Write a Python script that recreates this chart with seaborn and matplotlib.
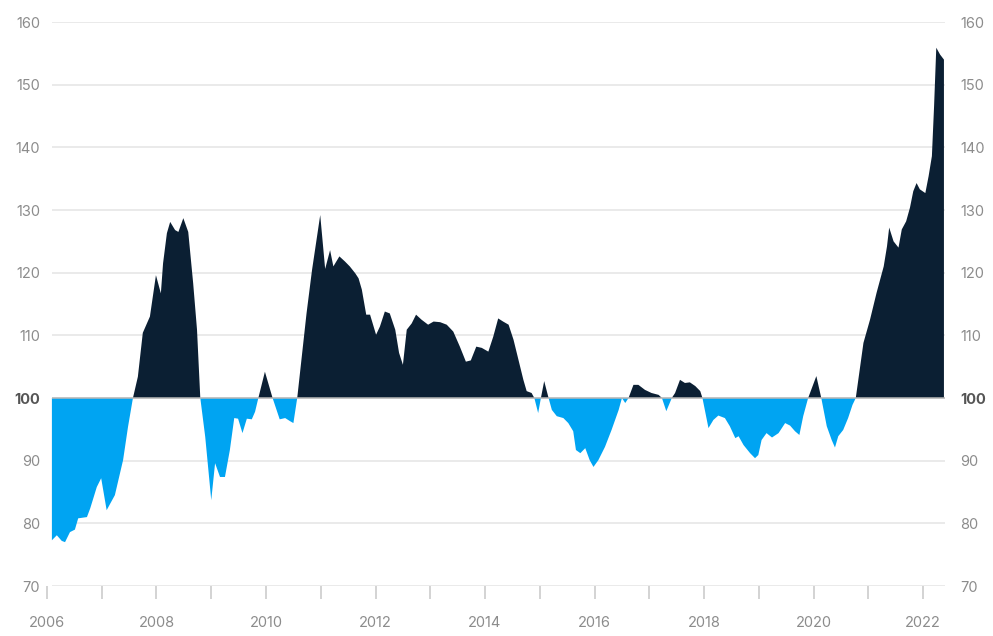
import numpy as np
import matplotlib
matplotlib.use("Agg")
import matplotlib.pyplot as plt
import seaborn as sns

# index values (100 = long-run average)
years = [2006.09, 2006.18, 2006.27, 2006.33, 2006.42, 2006.51, 2006.57, 2006.73, 2006.79, 2006.91,
         2006.99, 2007.09, 2007.24, 2007.39, 2007.48, 2007.57, 2007.66, 2007.75, 2007.88, 2007.99,
         2008.08, 2008.12, 2008.19, 2008.25, 2008.34, 2008.40, 2008.49, 2008.58, 2008.67, 2008.74,
         2008.80, 2008.89, 2009.00, 2009.07, 2009.16, 2009.25, 2009.34, 2009.42, 2009.49, 2009.57,
         2009.65, 2009.74, 2009.80, 2009.86, 2009.98, 2010.12, 2010.25, 2010.35, 2010.44, 2010.50,
         2010.57, 2010.74, 2010.84, 2010.99, 2011.08, 2011.17, 2011.23, 2011.34, 2011.44, 2011.53,
         2011.63, 2011.69, 2011.75, 2011.83, 2011.90, 2012.01, 2012.08, 2012.17, 2012.26, 2012.36,
         2012.43, 2012.50, 2012.57, 2012.66, 2012.74, 2012.84, 2012.96, 2013.06, 2013.18, 2013.30,
         2013.42, 2013.54, 2013.65, 2013.74, 2013.84, 2013.94, 2014.06, 2014.15, 2014.24, 2014.33,
         2014.43, 2014.52, 2014.61, 2014.70, 2014.76, 2014.85, 2014.90, 2014.97, 2015.02, 2015.08,
         2015.16, 2015.22, 2015.31, 2015.43, 2015.52, 2015.61, 2015.66, 2015.74, 2015.83, 2015.91,
         2015.98, 2016.07, 2016.19, 2016.31, 2016.44, 2016.50, 2016.56, 2016.62, 2016.71, 2016.80,
         2016.92, 2017.04, 2017.17, 2017.23, 2017.31, 2017.41, 2017.47, 2017.56, 2017.65, 2017.74,
         2017.84, 2017.93, 2017.97, 2018.08, 2018.17, 2018.26, 2018.38, 2018.47, 2018.57, 2018.63,
         2018.72, 2018.84, 2018.93, 2018.99, 2019.05, 2019.14, 2019.24, 2019.36, 2019.48, 2019.57,
         2019.66, 2019.74, 2019.81, 2019.90, 2020.05, 2020.14, 2020.24, 2020.33, 2020.39, 2020.45,
         2020.54, 2020.63, 2020.71, 2020.77, 2020.91, 2021.03, 2021.15, 2021.28, 2021.34, 2021.38,
         2021.46, 2021.55, 2021.61, 2021.69, 2021.76, 2021.82, 2021.88, 2021.94, 2022.04, 2022.10,
         2022.16, 2022.20, 2022.24, 2022.31, 2022.38]
index_vals = [77.3, 78.1, 77.2, 77.0, 78.6, 79.0, 80.8, 81.0, 82.4, 85.8,
              87.2, 82.1, 84.5, 90.1, 95.4, 100.0, 103.4, 110.4, 113.0, 119.6,
              116.7, 121.5, 126.3, 128.1, 126.8, 126.5, 128.7, 126.5, 118.3, 110.9,
              100.0, 93.8, 83.7, 89.6, 87.4, 87.4, 91.7, 96.8, 96.7, 94.4,
              96.7, 96.6, 97.8, 100.0, 104.2, 100.0, 96.6, 96.8, 96.3, 96.0,
              100.0, 113.5, 120.4, 129.2, 120.6, 123.6, 121.0, 122.6, 121.8, 121.0,
              119.9, 119.1, 117.3, 113.3, 113.3, 110.1, 111.4, 113.8, 113.5, 110.9,
              107.2, 105.3, 110.9, 111.9, 113.3, 112.5, 111.7, 112.2, 112.1, 111.7,
              110.6, 108.2, 105.8, 106.0, 108.2, 108.0, 107.4, 109.8, 112.7, 112.2,
              111.7, 109.3, 106.1, 102.9, 101.1, 100.8, 100.0, 97.6, 100.0, 102.7,
              100.0, 98.1, 97.1, 96.8, 96.0, 94.7, 91.7, 91.2, 92.0, 90.1,
              89.0, 90.1, 92.2, 94.9, 98.1, 100.0, 99.2, 100.0, 102.1, 102.1,
              101.3, 100.8, 100.5, 100.0, 97.9, 100.0, 100.8, 102.9, 102.4, 102.5,
              101.9, 101.1, 100.0, 95.2, 96.5, 97.2, 96.8, 95.5, 93.6, 93.9,
              92.5, 91.2, 90.4, 90.9, 93.3, 94.4, 93.7, 94.4, 96.0, 95.6,
              94.7, 94.1, 97.1, 100.0, 103.5, 100.0, 95.5, 93.3, 92.1, 93.9,
              94.9, 96.8, 98.9, 100.0, 108.8, 112.5, 116.8, 121.0, 124.2, 127.2,
              125.0, 124.0, 126.9, 128.2, 130.4, 133.0, 134.3, 133.3, 132.7, 135.4,
              138.6, 146.6, 155.9, 154.8, 154.0]

y_ticks = [70, 80, 90, 100, 110, 120, 130, 140, 150, 160]
x_ticks = list(range(2006, 2023))
x_labels = [str(y) if y % 2 == 0 else "" for y in x_ticks]

baseline = 100
navy = "#0b1f33"
sky = "#00a4f2"
grid_col = "#e8e8e8"
text_col = "#8c8c8c"

sns.set_theme(style="white")
plt.rcParams["font.family"] = ["Inter", "DejaVu Sans"]

fig = plt.figure(figsize=(9.93, 6.36), dpi=100)
ax = fig.add_axes([0.0473, 0.0786, 0.9044, 0.8868])

x = np.array(years)
v = np.array(index_vals)

# grid lines only over the data span
for yt in y_ticks:
    ax.hlines(yt, years[0], 2022.4, color=grid_col, lw=1.3, zorder=1)

ax.fill_between(x, baseline, v, where=v >= baseline, interpolate=True,
                color=navy, lw=0, zorder=2)
ax.fill_between(x, baseline, v, where=v <= baseline, interpolate=True,
                color=sky, lw=0, zorder=2)
ax.hlines(baseline, years[0], 2022.4, color="#b8b8b8", lw=1.1, zorder=3)

ax.set_xlim(2006, 2022.4)
ax.set_ylim(70, 160)
for s in ax.spines.values():
    s.set_visible(False)

ax.set_xticks(x_ticks)
ax.set_xticklabels(x_labels)
ax.tick_params(axis="x", bottom=True, top=False, length=9.5, width=1.1, color="#c8c8c8",
               pad=12, labelsize=10.5, labelcolor=text_col, direction="out")

ax.set_yticks(y_ticks)
ax.set_yticklabels([str(t) for t in y_ticks])
ax.tick_params(axis="y", left=False, right=False, length=0, pad=5,
               labelsize=10.5, labelcolor=text_col)

ax2 = ax.twinx()
ax2.set_ylim(70, 160)
ax2.set_yticks(y_ticks)
ax2.set_yticklabels([str(t) for t in y_ticks])
ax2.tick_params(axis="y", left=False, right=False, length=0, pad=11,
                labelsize=10.5, labelcolor=text_col)
for s in ax2.spines.values():
    s.set_visible(False)

for a in (ax, ax2):
    for lab in a.get_yticklabels():
        if lab.get_text() == "100":
            lab.set_fontweight("bold")
            lab.set_color("#555555")

fig.savefig("out.png", dpi=100)
